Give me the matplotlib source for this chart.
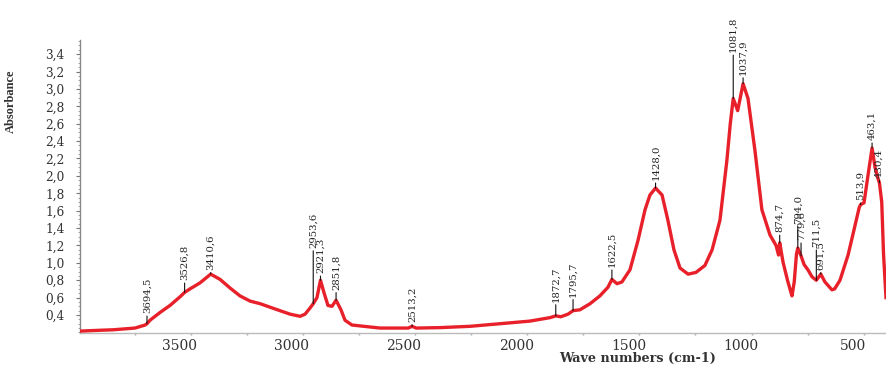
import numpy as np
import matplotlib
matplotlib.use('Agg')
import matplotlib.pyplot as plt
from matplotlib.ticker import MultipleLocator, FuncFormatter
from matplotlib.transforms import ScaledTranslation

# FTIR spectrum, wavenumber (cm-1) against absorbance
wavenumber = [3993, 3900, 3846, 3748, 3703, 3694.5, 3681, 3636, 3592, 3547,
              3526.8, 3503, 3458, 3410.6, 3369, 3324, 3280, 3235, 3190, 3124,
              3057, 3012, 2990, 2968, 2953.6, 2937, 2921.3, 2906, 2888, 2870,
              2851.8, 2830, 2812, 2781, 2656, 2530, 2513.2, 2495, 2389, 2255,
              2121, 1988, 1898, 1872.7, 1850, 1818, 1795.7, 1765, 1720, 1676,
              1640, 1622.5, 1600, 1578, 1542, 1506, 1475, 1453, 1428.0, 1399,
              1373, 1346, 1319, 1283, 1248, 1208, 1176, 1141, 1110, 1095,
              1081.8, 1062, 1037.9, 1016, 985, 954, 918, 891, 880, 874.7,
              860, 840, 829, 820, 810, 800, 794.0, 779.6, 766, 749,
              731, 711.5, 700, 691.5, 673, 642, 630, 606, 570, 539,
              520, 513.9, 499, 481, 463.1, 450, 440, 430.4, 420, 412, 401]
absorbance = [0.215, 0.225, 0.230, 0.250, 0.285, 0.300, 0.340, 0.430, 0.510, 0.610,
              0.660, 0.700, 0.770, 0.870, 0.810, 0.710, 0.620, 0.560, 0.530, 0.470,
              0.410, 0.385, 0.410, 0.480, 0.530, 0.600, 0.800, 0.660, 0.510, 0.500,
              0.570, 0.460, 0.340, 0.285, 0.250, 0.250, 0.270, 0.250, 0.255, 0.270,
              0.300, 0.330, 0.370, 0.390, 0.380, 0.410, 0.450, 0.460, 0.530, 0.620,
              0.720, 0.810, 0.760, 0.780, 0.920, 1.260, 1.610, 1.780, 1.860, 1.780,
              1.490, 1.150, 0.940, 0.870, 0.890, 0.970, 1.150, 1.490, 2.180, 2.600,
              2.890, 2.750, 3.060, 2.890, 2.290, 1.610, 1.320, 1.200, 1.090, 1.230,
              1.010, 0.800, 0.700, 0.620, 0.780, 1.100, 1.170, 1.080, 0.980, 0.920,
              0.840, 0.800, 0.840, 0.870, 0.780, 0.690, 0.700, 0.800, 1.090, 1.430,
              1.640, 1.670, 1.690, 2.010, 2.320, 2.100, 2.000, 1.920, 1.700, 1.100, 0.600]

# labelled bands and the height of each label's foot
peak_wn = [3694.5, 3526.8, 3410.6, 2953.6, 2921.3, 2851.8, 2513.2, 1872.7, 1795.7,
           1622.5, 1428.0, 1081.8, 1037.9, 874.7, 794.0, 779.6, 711.5, 691.5,
           513.9, 463.1, 430.4]
peak_text = ['3694,5', '3526,8', '3410,6', '2953,6', '2921,3', '2851,8', '2513,2',
             '1872,7', '1795,7', '1622,5', '1428,0', '1081,8', '1037,9', '874,7',
             '794,0', '779,6', '711,5', '691,5', '513,9', '463,1', '430,4']
label_foot = [0.42, 0.80, 0.92, 1.17, 0.88, 0.69, 0.32, 0.55, 0.61,
              0.95, 1.95, 3.42, 3.16, 1.35, 1.45, 1.26, 1.18, 0.92,
              1.72, 2.41, 1.98]

xticks = [3500, 3000, 2500, 2000, 1500, 1000, 500]
yticks = np.round(np.arange(0.4, 3.41, 0.2), 1)

fig = plt.figure(figsize=(8.86, 3.67), dpi=100)
ax = fig.add_axes([0.0903, 0.0926, 0.9097, 0.798])

ax.plot(wavenumber, absorbance, color='#e8202a', lw=2.4, solid_joinstyle='round', zorder=3)

serif = 'DejaVu Serif'
for wn, txt, foot in zip(peak_wn, peak_text, label_foot):
    a = np.interp(wn, wavenumber[::-1], absorbance[::-1])
    ax.annotate(txt, xy=(wn, a), xytext=(wn, foot), rotation=90,
                ha='center', va='bottom', fontsize=7.3, family=serif, color='#222222',
                annotation_clip=False,
                arrowprops=dict(arrowstyle='-', lw=0.8, color='#111111',
                                shrinkA=0, shrinkB=0))

ax.set_xlim(3993, 401)
ax.set_ylim(0.193, 3.561)

ax.set_xticks(xticks)
ax.xaxis.set_minor_locator(MultipleLocator(250))
ax.set_yticks(yticks)
ax.yaxis.set_minor_locator(MultipleLocator(0.05))
ax.yaxis.set_major_formatter(FuncFormatter(lambda v, p: f'{v:.1f}'.replace('.', ',')))

ax.tick_params(axis='x', which='both', length=1.5, width=1, color='#aaaaaa', pad=3,
               labelsize=10, labelcolor='#333333')
ax.tick_params(axis='y', which='major', length=3, width=0.8, color='#777777', pad=8,
               labelsize=8.7, labelcolor='#333333')
ax.tick_params(axis='y', which='minor', length=1.8, width=0.6, color='#999999')
for lab in ax.get_xticklabels() + ax.get_yticklabels():
    lab.set_family(serif)
for lab in ax.get_xticklabels():
    lab.set_transform(lab.get_transform() + ScaledTranslation(-0.11, 0, fig.dpi_scale_trans))

for side in ('top', 'right'):
    ax.spines[side].set_visible(False)
ax.spines['left'].set_color('#888888')
ax.spines['left'].set_linewidth(1.0)
ax.spines['bottom'].set_color('#bbbbbb')
ax.spines['bottom'].set_linewidth(1.0)

ax.set_xlabel('Wave numbers (cm-1)', family=serif, fontsize=9.2, fontweight='bold', color='#333333')
ax.xaxis.set_label_coords(0.692, -0.066)
ax.set_ylabel('Absorbance', family='Liberation Serif', fontsize=9, fontweight='bold', color='#333333')
ax.yaxis.set_label_coords(-0.078, 0.79)

fig.savefig('out.png', dpi=100)
